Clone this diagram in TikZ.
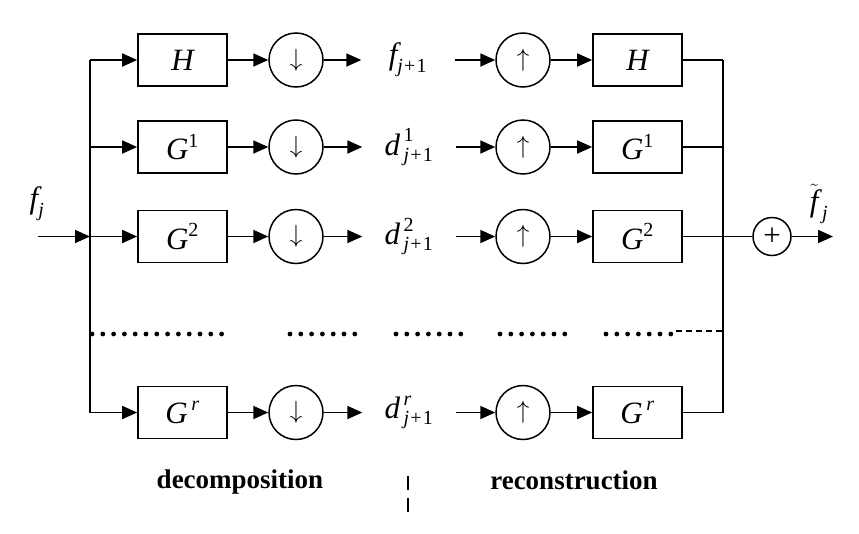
\documentclass[tikz,border=0pt]{standalone}
\usepackage{amsmath}
\usepackage{fontspec}
\setmainfont{Liberation Serif}
\usetikzlibrary{positioning,arrows.meta}
\DeclareMathSizes{31}{31}{20}{15}
\newcommand{\vi}[1]{\text{\itshape #1}}
\newcommand{\jp}{\vi{j}\mkern1mu\text{+}\mkern1mu\text{1}}

\begin{document}
\begin{tikzpicture}[x=1pt, y=-1pt,
    font=\fontsize{31}{34}\selectfont,
    filt/.style={draw, line width=1.7pt, minimum width=89pt, minimum height=52pt, inner sep=0pt},
    samp/.style={draw, circle, line width=1.5pt, minimum size=54pt, inner sep=0pt},
    sig/.style={minimum width=93pt, inner sep=0pt},
    wire/.style={line width=1.8pt},
    arr/.style={wire, -{Triangle[length=15pt, width=13pt]}},
    dots/.style={line width=4.8pt, line cap=round, dash pattern=on 0pt off 10.8pt},
    lbl/.style={font=\fontsize{27}{30}\selectfont\bfseries}
  ]
  \useasboundingbox (0,0) rectangle (859,533);

  % decomposition side
  \node[filt] (ha)  at (182.5,60)  {$\vi{H}$};
  \node[filt] (g1a) at (182.5,147) {$\vi{G}^{\text{1}}$};
  \node[filt] (g2a) at (182.5,236.5) {$\vi{G}^{\text{2}}$};
  \node[filt] (gra) at (182.5,412.5) {$\vi{G}^{\,\vi{r}}$};
  \node[samp] (dn0) at (296,60)  {$\downarrow$};
  \node[samp] (dn1) at (296,147) {$\downarrow$};
  \node[samp] (dn2) at (296,236.5) {$\downarrow$};
  \node[samp] (dnr) at (296,412.5) {$\downarrow$};

  % subband signals
  \node[sig] (s0) at (408,60)  {$\vi{f}_{\jp}$};
  \node[sig] (s1) at (409,147) {$\vi{d}^{\,\text{1}}_{\,\jp}$};
  \node[sig] (s2) at (409,236.5) {$\vi{d}^{\,\text{2}}_{\,\jp}$};
  \node[sig] (sr) at (409,412.5) {$\vi{d}^{\,\vi{r}}_{\,\jp}$};

  % reconstruction side
  \node[samp] (up0) at (523,60)  {$\uparrow$};
  \node[samp] (up1) at (523,147) {$\uparrow$};
  \node[samp] (up2) at (523,236.5) {$\uparrow$};
  \node[samp] (upr) at (523,412.5) {$\uparrow$};
  \node[filt] (hs)  at (637.5,60)  {$\vi{H}$};
  \node[filt] (g1s) at (637.5,147) {$\vi{G}^{\text{1}}$};
  \node[filt] (g2s) at (637.5,236.5) {$\vi{G}^{\text{2}}$};
  \node[filt] (grs) at (637.5,412.5) {$\vi{G}^{\,\vi{r}}$};

  % buses
  \coordinate (l0) at (90,60);
  \coordinate (l1) at (90,147);
  \coordinate (l2) at (90,236.5);
  \coordinate (l3) at (90,412.5);
  \coordinate (r0) at (723,60);
  \coordinate (r1) at (723,147);
  \coordinate (r2) at (723,236.5);
  \coordinate (r3) at (723,412.5);
  \coordinate (rd) at (723,331);
  \coordinate (in) at (38,236.5);
  \coordinate (out) at (833,236.5);

  \node (fj) at (37,204) {$\vi{f}_{\vi{j}}$};
  \node[samp, minimum size=38pt] (sum) at (772,236.5) {+};
  \node (ft) at (819,204) {$\tilde{\vi{f}}_{\,\vi{j}}$};

  \draw[wire] (l0) -- (l3);
  \draw[wire] (r0) -- (r3);
  \draw[arr] (in) -- (l2);
  \draw[wire] (r2) -- (sum);
  \draw[arr] (sum) -- (out);

  \draw[arr] (l0) -- (ha);
  \draw[arr] (ha) -- (dn0);
  \draw[arr] (dn0) -- (s0);
  \draw[arr] (s0) -- (up0);
  \draw[arr] (up0) -- (hs);
  \draw[wire] (hs) -- (r0);

  \draw[arr] (l1) -- (g1a);
  \draw[arr] (g1a) -- (dn1);
  \draw[arr] (dn1) -- (s1);
  \draw[arr] (s1) -- (up1);
  \draw[arr] (up1) -- (g1s);
  \draw[wire] (g1s) -- (r1);

  \draw[arr] (l2) -- (g2a);
  \draw[arr] (g2a) -- (dn2);
  \draw[arr] (dn2) -- (s2);
  \draw[arr] (s2) -- (up2);
  \draw[arr] (up2) -- (g2s);
  \draw[wire] (g2s) -- (r2);

  \draw[arr] (l3) -- (gra);
  \draw[arr] (gra) -- (dnr);
  \draw[arr] (dnr) -- (sr);
  \draw[arr] (sr) -- (upr);
  \draw[arr] (upr) -- (grs);
  \draw[wire] (grs) -- (r3);

  % omitted branches
  \draw[dots] (92,334) -- (232,334);
  \draw[dots] (290,334) -- (357,334);
  \draw[dots] (396,334) -- (462,334);
  \draw[dots] (500,334) -- (567,334);
  \draw[dots] (606,334) -- (673,334);
  \draw[wire, dash pattern=on 6pt off 4pt] (676,331) -- (rd);

  \node[lbl] (dec) at (240,482) {decomposition};
  \node[lbl] (rec) at (574,480) {reconstruction};
  \draw[line width=1.2pt, dash pattern=on 14pt off 8pt] (408,476) -- (408,513);
\end{tikzpicture}
\end{document}
